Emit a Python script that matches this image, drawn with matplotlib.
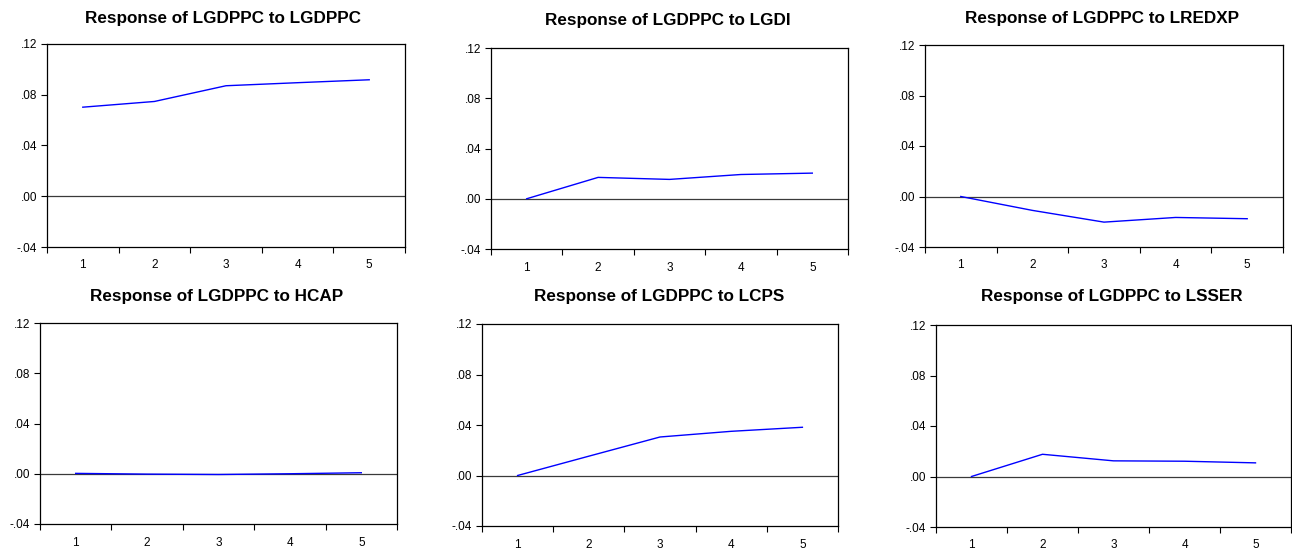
import numpy as np
import matplotlib
matplotlib.use("Agg")
import matplotlib.pyplot as plt
import matplotlib.ticker as ticker

plt.rcParams["font.family"] = ["Liberation Sans", "DejaVu Sans"]

PERIODS = [1, 2, 3, 4, 5]
SHOCKS = ["LGDPPC", "LGDI", "LREDXP", "HCAP", "LCPS", "LSSER"]

# impulse responses of LGDPPC
RESP_LGDPPC = [0.0702, 0.0747, 0.0871, 0.0895, 0.0918]
RESP_LGDI   = [0.0000, 0.0170, 0.0154, 0.0193, 0.0204]
RESP_LREDXP = [0.0000, -0.0110, -0.0203, -0.0166, -0.0176]
RESP_HCAP   = [0.0003, -0.0003, -0.0006, 0.0000, 0.0008]
RESP_LCPS   = [0.0000, 0.0153, 0.0305, 0.0350, 0.0382]
RESP_LSSER  = [0.0000, 0.0176, 0.0124, 0.0121, 0.0108]
RESPONSES = [RESP_LGDPPC, RESP_LGDI, RESP_LREDXP, RESP_HCAP, RESP_LCPS, RESP_LSSER]

Y_TICKS = [-0.04, 0.00, 0.04, 0.08, 0.12]
Y_LABELS = ["-.04", ".00", ".04", ".08", ".12"]

W, H = 1292, 549
# axes boxes in pixels: left, top, right, bottom ; title centre x, title y
BOXES = [
    (47, 44, 405, 247, 223, 18),
    (491, 48, 848, 249, 668, 21),
    (925, 45, 1283, 247, 1102, 18),
    (40, 323, 397, 524, 217, 296),
    (482, 324, 838, 526, 659, 297),
    (936, 325, 1291, 527, 1112, 297),
]

fig = plt.figure(figsize=(W / 100, H / 100), dpi=100)

for shock, resp, (l, t, r, b, tx, ty) in zip(SHOCKS, RESPONSES, BOXES):
    ax = fig.add_axes([l / W, 1 - b / H, (r - l) / W, (b - t) / H])
    ax.axhline(0, color="#3a3a3a", linewidth=0.9, zorder=2)
    ax.plot(PERIODS, resp, color="#0000ff", linewidth=1.0, zorder=3)

    ax.set_xlim(0.5, 5.5)
    ax.set_ylim(-0.04, 0.12)
    ax.set_yticks(Y_TICKS)
    ax.yaxis.set_major_formatter(ticker.FixedFormatter(Y_LABELS))
    # ticks sit between periods, labels at the periods
    ax.set_xticks(np.arange(0.5, 6.0, 1.0))
    ax.set_xticks(PERIODS, minor=True)
    ax.xaxis.set_major_formatter(ticker.NullFormatter())
    ax.xaxis.set_minor_formatter(ticker.FixedFormatter([str(p) for p in PERIODS]))
    ax.tick_params(axis="x", which="major", direction="out", length=4, width=0.8)
    ax.tick_params(axis="x", which="minor", length=0, pad=9, labelsize=8.5)
    ax.tick_params(axis="y", direction="out", length=4, width=0.8, labelsize=8.5, pad=3)
    for sp in ax.spines.values():
        sp.set_linewidth(0.9)

    fig.text(tx / W, 1 - ty / H, f"Response of LGDPPC to {shock}",
             ha="center", va="center", fontsize=12.3, fontweight="bold")

fig.savefig("out.png", dpi=100)
